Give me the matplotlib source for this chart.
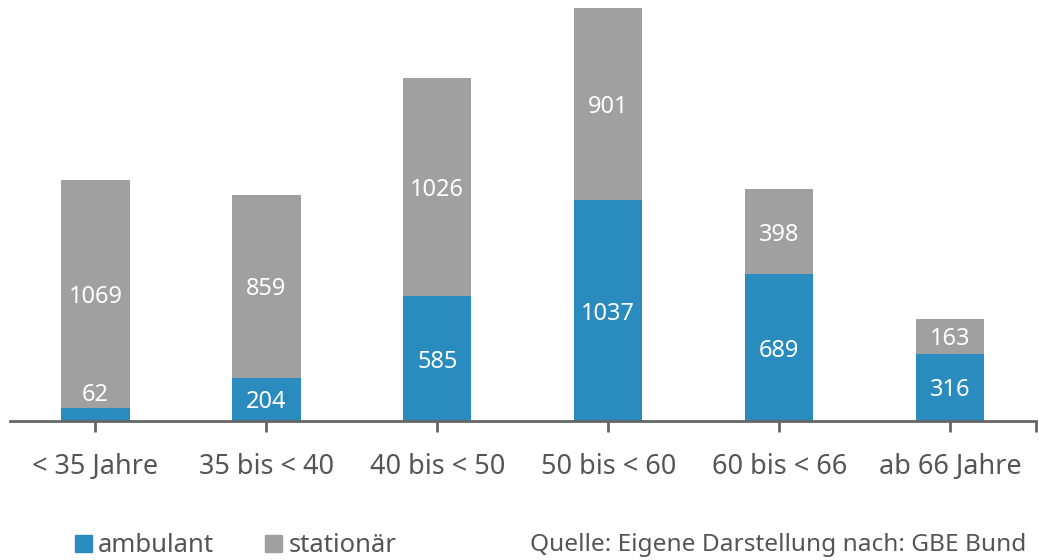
import matplotlib.pyplot as plt
from matplotlib.patches import Patch

plt.rcParams['font.family'] = ['Noto Sans', 'DejaVu Sans']

# data
categories = ['< 35 Jahre', '35 bis < 40', '40 bis < 50', '50 bis < 60', '60 bis < 66', 'ab 66 Jahre']
ambulant = [62, 204, 585, 1037, 689, 316]
stationaer = [1069, 859, 1026, 901, 398, 163]

blue = '#2A8BBF'
grey = '#A0A0A0'
txt = '#555555'

fig = plt.figure(figsize=(10.39, 5.6), dpi=100)
ax = fig.add_axes([10 / 1039, 139 / 560, 1025.5 / 1039, 421 / 560])

x = list(range(len(categories)))
w = 0.4
ax.bar(x, ambulant, w, color=blue, label='ambulant')
ax.bar(x, stationaer, w, bottom=ambulant, color=grey, label='stationär')

for i in x:
    a = ambulant[i]
    s = stationaer[i]
    if a < 100:
        ax.text(i, a + 5, str(a), ha='center', va='bottom', color='white', fontsize=17)
    else:
        ax.text(i, a / 2, str(a), ha='center', va='center_baseline', color='white', fontsize=17)
    ax.text(i, a + s / 2, str(s), ha='center', va='center_baseline', color='white', fontsize=17)

ax.set_xlim(-0.5, len(categories) - 0.5)
ax.set_ylim(0, 1976)
for sp in ['top', 'right', 'left']:
    ax.spines[sp].set_visible(False)
ax.spines['bottom'].set_color('#666666')
ax.spines['bottom'].set_linewidth(2)
ax.set_yticks([])
ax.set_xticks(x + [len(categories) - 0.5])
ax.set_xticklabels(categories + [''], fontsize=19.5, color=txt)
ax.tick_params(axis='x', length=8, width=2, color='#666666', pad=15)

handles = [Patch(color=blue), Patch(color=grey)]
fig.legend(handles, ['ambulant', 'stationär'], loc='center left',
           bbox_to_anchor=(62 / 1039, 1 - 546 / 560), ncol=2, frameon=False,
           fontsize=18.5, labelcolor=txt, handlelength=0.65, handleheight=0.65,
           handletextpad=0.25, columnspacing=2.0, borderpad=0)

fig.text(530 / 1039, 1 - 545 / 560, 'Quelle: Eigene Darstellung nach: GBE Bund',
         fontsize=17.6, color=txt, va='center', ha='left')

fig.savefig('out.png', dpi=100)
